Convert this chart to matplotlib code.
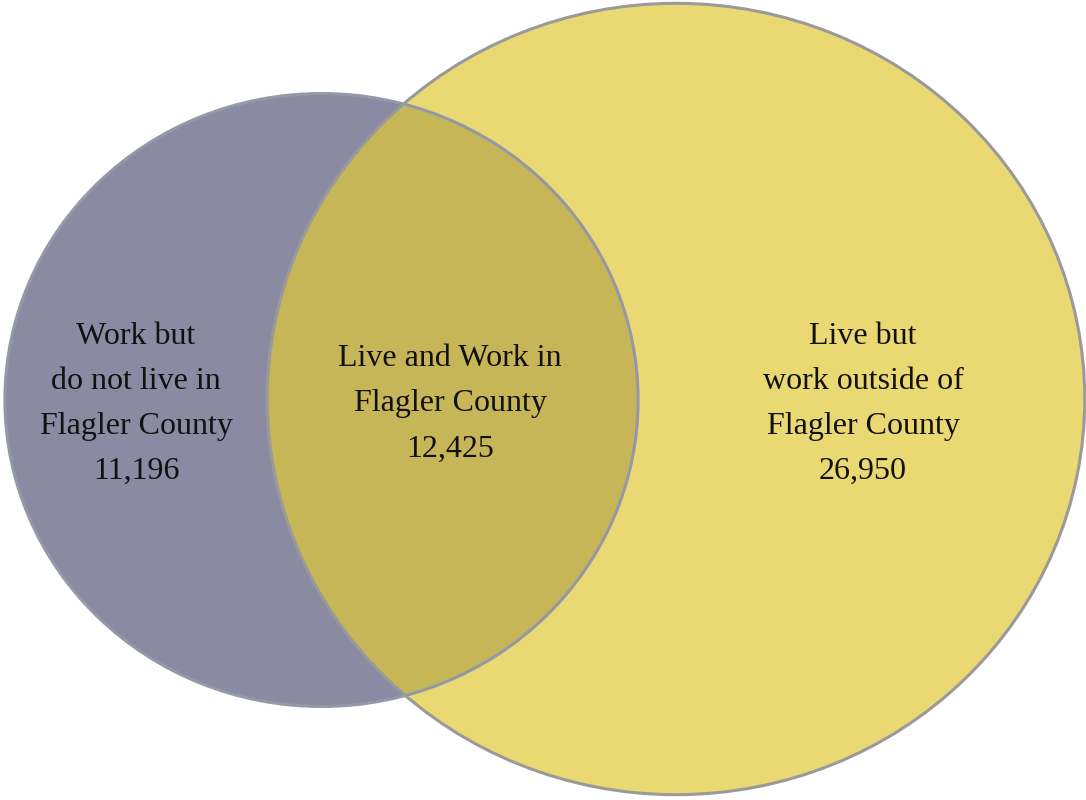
import matplotlib.pyplot as plt
from matplotlib.patches import Ellipse
import numpy as np

# Commuting flows for Flagler County
labels = ['Work but\ndo not live in\nFlagler County',
          'Live and Work in\nFlagler County',
          'Live but\nwork outside of\nFlagler County']
counts = [11196, 12425, 26950]

work_total = counts[0] + counts[1]   # left circle
live_total = counts[1] + counts[2]   # right circle

# circle size proportional to area
k = 2.06
r_left = k * np.sqrt(work_total)
r_right = k * np.sqrt(live_total)
ystretch = 0.968

fig = plt.figure(figsize=(10.86, 8.0), dpi=100)
ax = fig.add_axes([0, 0, 1, 1])
ax.set_xlim(0, 1086)
ax.set_ylim(800, 0)
ax.axis('off')

cl = (321.5, 400)
cr = (676, 399)

left = Ellipse(cl, 2 * r_left, 2 * r_left * ystretch, facecolor='#8a8aa2', edgecolor='none')
right = Ellipse(cr, 2 * r_right, 2 * r_right * ystretch, facecolor='#e2c938', alpha=0.7, edgecolor='none')
ax.add_patch(left)
ax.add_patch(right)

# outlines on top
ax.add_patch(Ellipse(cl, 2 * r_left, 2 * r_left * ystretch, fill=False, edgecolor='#9499a6', lw=2.2))
ax.add_patch(Ellipse(cr, 2 * r_right, 2 * r_right * ystretch, fill=False, edgecolor='#9a9a9a', lw=2.2))

font = dict(family='Liberation Serif', fontsize=23, ha='center', va='center', linespacing=1.73, color='#111111')
ax.text(136, 404, f'{labels[0]}\n{counts[0]:,}', **font)
ax.text(450, 404, f'{labels[1]}\n{counts[1]:,}', **font)
ax.text(863, 404, f'{labels[2]}\n{counts[2]:,}', **font)

fig.savefig('out.png', dpi=100)
